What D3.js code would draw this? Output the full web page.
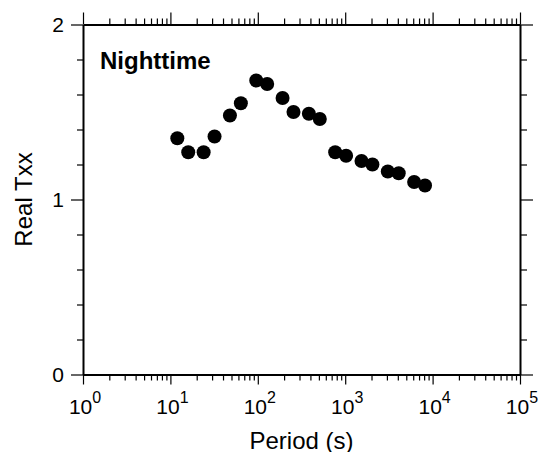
<!DOCTYPE html>
<html>
<head>
<meta charset="utf-8">
<script src="https://cdn.jsdelivr.net/npm/d3@7"></script>
<style>
  body { margin: 0; background: #fff; }
  svg { display: block; font-family: "Liberation Sans", Arial, sans-serif; }
  .frame path.domain { stroke-width: 2; }
  .tick line { stroke: #000; stroke-width: 1.2; }
</style>
</head>
<body>
<svg id="chart" width="541" height="452"></svg>
<script>
// periods (s) and real Txx values
let periods = [12, 16, 24, 32, 48, 64, 96, 128, 192, 256, 384, 512, 768, 1024, 1536, 2048, 3072, 4096, 6144, 8192];
let realTxx = [1.35, 1.27, 1.27, 1.36, 1.48, 1.55, 1.68, 1.66, 1.58, 1.50, 1.49, 1.46, 1.27, 1.25, 1.22, 1.20, 1.16, 1.15, 1.10, 1.08];
let xMajor = [1, 10, 100, 1000, 10000, 100000];
let xExp = ['0', '1', '2', '3', '4', '5'];
let yMajor = [0, 1, 2];
let panelTitle = 'Nighttime';

let margin = {top: 24.5, left: 83, right: 21, bottom: 77.5};
let width = 541 - margin.left - margin.right;
let height = 452 - margin.top - margin.bottom;

let x = d3.scaleLog().domain([1, 1e5]).range([0, width]);
let y = d3.scaleLinear().domain([0, 2]).range([height, 0]);

// minor ticks: 2..9 in each decade, 0.2 steps on y
let xMinor = [];
xMajor.slice(0, -1).forEach(d => { for (let k = 2; k < 10; k++) xMinor.push(d * k); });
let yMinor = d3.range(0, 2.001, 0.2).filter(v => Math.abs(v - Math.round(v)) > 1e-6);

let svg = d3.select('#chart').append('g').attr('transform', `translate(${margin.left},${margin.top})`);

// minor ticks (no domain)
function minor(axis, g) {
  g.call(axis).call(s => s.select('.domain').remove());
}
minor(d3.axisBottom(x).tickValues(xMinor).tickSize(6).tickFormat(''), svg.append('g').attr('transform', `translate(0,${height})`));
minor(d3.axisTop(x).tickValues(xMinor).tickSize(6).tickFormat(''), svg.append('g'));
minor(d3.axisLeft(y).tickValues(yMinor).tickSize(6).tickFormat(''), svg.append('g'));
minor(d3.axisRight(y).tickValues(yMinor).tickSize(7).tickFormat(''), svg.append('g').attr('transform', `translate(${width},0)`));

// major ticks + frame
svg.append('g').attr('class', 'frame').attr('transform', `translate(0,${height})`)
  .call(d3.axisBottom(x).tickValues(xMajor).tickSize(10).tickSizeOuter(0).tickFormat(''));
svg.append('g').attr('class', 'frame')
  .call(d3.axisTop(x).tickValues(xMajor).tickSize(12).tickSizeOuter(0).tickFormat(''));
svg.append('g').attr('class', 'frame')
  .call(d3.axisLeft(y).tickValues(yMajor).tickSize(12).tickSizeOuter(0).tickFormat(''));
svg.append('g').attr('class', 'frame').attr('transform', `translate(${width},0)`)
  .call(d3.axisRight(y).tickValues(yMajor).tickSize(13).tickSizeOuter(0).tickFormat(''));

// x tick labels as powers of ten
let xl = svg.append('g').selectAll('text')
  .data(xMajor)
  .enter()
  .append('text')
  .attr('x', (d) => x(d) + 2)
  .attr('y', height + 39)
  .attr('text-anchor', 'middle')
  .attr('font-size', '21px');
xl.append('tspan').text('10');
xl.append('tspan').attr('dy', -11).attr('font-size', '16px').text((d, i) => xExp[i]);

// y tick labels
svg.append('g').selectAll('text')
  .data(yMajor)
  .enter()
  .append('text')
  .attr('x', -19)
  .attr('y', (d) => y(d))
  .attr('dy', '0.36em')
  .attr('text-anchor', 'end')
  .attr('font-size', '21px')
  .text((d) => d);

// axis titles
svg.append('text')
  .attr('x', width / 2)
  .attr('y', height + 74)
  .attr('text-anchor', 'middle')
  .attr('font-size', '24px')
  .text('Period (s)');
svg.append('text')
  .attr('transform', `translate(${-51},${height / 2}) rotate(-90)`)
  .attr('text-anchor', 'middle')
  .attr('font-size', '24px')
  .text('Real Txx');

svg.append('text')
  .attr('x', 17)
  .attr('y', 44)
  .attr('font-size', '24px')
  .attr('font-weight', 'bold')
  .text(panelTitle);

// points
svg.append('g')
  .selectAll('circle')
  .data(periods)
  .enter()
  .append('circle')
  .attr('cx', (d) => x(d))
  .attr('cy', (d, i) => y(realTxx[i]))
  .attr('r', 7)
  .attr('fill', '#000');
</script>
</body>
</html>
